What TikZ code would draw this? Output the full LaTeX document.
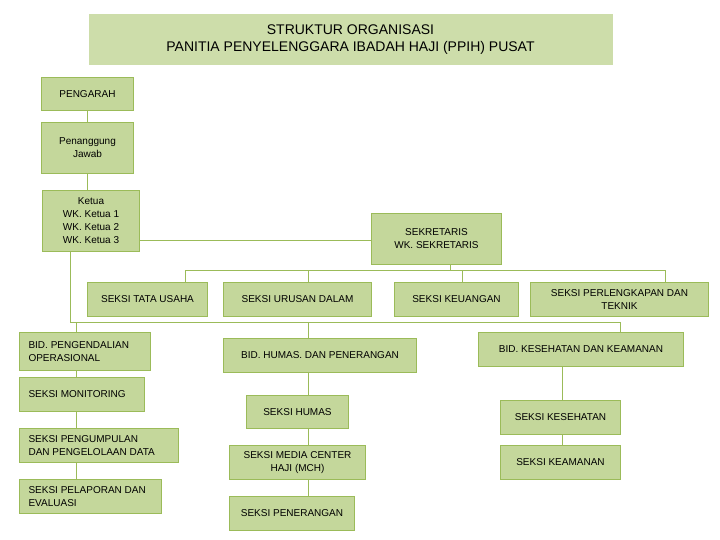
\documentclass[tikz,border=0pt]{standalone}
\usepackage{fontspec}
\setmainfont{Liberation Sans}
\begin{document}
\begin{tikzpicture}[x=1pt,y=-1pt,
  bx/.style={draw=bord,fill=boxfill,line width=1pt,inner sep=0pt,font=\fontsize{10}{13}\selectfont},
  ln/.style={draw=bord,line width=1pt}]
\definecolor{boxfill}{HTML}{C4D79B}
\definecolor{bord}{HTML}{9BBB59}
\useasboundingbox (0,0) rectangle (720,540);
\newcommand{\bx}[6]{\node[bx,minimum width={#4-#2},minimum height={#5-#3},anchor=north west,#6] (#1) at (#2,#3) {};}
\bx{t}{88}{14}{612}{65}{draw=none,fill=boxfill!85}
\node[font=\fontsize{14}{17}\selectfont,align=center] (tt) at (t.center) {STRUKTUR ORGANISASI\\PANITIA PENYELENGGARA IBADAH HAJI (PPIH) PUSAT};
\bx{p}{41}{77}{133}{110}{}
\bx{pj}{41}{122}{133}{173}{}
\bx{k}{42}{190}{139}{251}{}
\bx{s}{371}{213}{501}{264}{}
\bx{tu}{87}{282}{207}{316}{}
\bx{ud}{223}{282}{371}{316}{}
\bx{ku}{394}{282}{518}{316}{}
\bx{pt}{530}{282}{708}{316}{}
\bx{bp}{19}{332}{150}{370}{}
\bx{bh}{223}{338}{416}{372}{}
\bx{bk}{478}{332}{683}{366}{}
\bx{mo}{19}{377}{144}{411}{}
\bx{pd}{19}{428}{178}{462}{}
\bx{pe}{19}{479}{161}{513}{}
\bx{sh}{246}{395}{348}{428}{}
\bx{mc}{229}{445}{365}{479}{}
\bx{pn}{229}{496}{354}{530}{}
\bx{ks}{500}{400}{620}{434}{}
\bx{ka}{500}{445}{620}{479}{}
\tikzset{lb/.style={font=\fontsize{10}{13}\selectfont,align=center}}
\node[lb] (pl) at (p.center) {PENGARAH};
\node[lb] (pjl) at (pj.center) {Penanggung\\Jawab};
\node[lb] (kl) at (k.center) {Ketua\\WK. Ketua 1\\WK. Ketua 2\\WK. Ketua 3};
\node[lb] (sl) at (s.center) {SEKRETARIS\\WK. SEKRETARIS};
\node[lb] (tul) at (tu.center) {SEKSI TATA USAHA};
\node[lb] (udl) at (ud.center) {SEKSI URUSAN DALAM};
\node[lb] (kul) at (ku.center) {SEKSI KEUANGAN};
\node[lb] (ptl) at (pt.center) {SEKSI PERLENGKAPAN DAN\\TEKNIK};
\node[lb,align=left,anchor=west] (bpl) at ([xshift=6pt]bp.west) {BID. PENGENDALIAN\\OPERASIONAL};
\node[lb] (bhl) at (bh.center) {BID. HUMAS. DAN PENERANGAN};
\node[lb] (bkl) at (bk.center) {BID. KESEHATAN DAN KEAMANAN};
\node[lb,anchor=west] (mol) at ([xshift=6pt]mo.west) {SEKSI MONITORING};
\node[lb,align=left,anchor=west] (pdl) at ([xshift=6pt]pd.west) {SEKSI PENGUMPULAN\\DAN PENGELOLAAN DATA};
\node[lb,align=left,anchor=west] (pel) at ([xshift=6pt]pe.west) {SEKSI PELAPORAN DAN\\EVALUASI};
\node[lb] (shl) at (sh.center) {SEKSI HUMAS};
\node[lb] (mcl) at (mc.center) {SEKSI MEDIA CENTER\\HAJI (MCH)};
\node[lb] (pnl) at (pn.center) {SEKSI PENERANGAN};
\node[lb] (ksl) at (ks.center) {SEKSI KESEHATAN};
\node[lb] (kal) at (ka.center) {SEKSI KEAMANAN};
% connectors
\draw[ln] (p.south) -- (pj.north);
\draw[ln] (pj.south) -- (pj.south |- k.north);
\draw[ln] (k.east |- 0,240) -- (s.west |- 0,240);
\coordinate (sb) at (450,270);
\draw[ln] (s.south -| sb) -- (sb);
\draw[ln] (185,270) -- (665,270);
\draw[ln] (185,270) -- (185,282);
\draw[ln] (308,270) -- (308,282);
\draw[ln] (462,270) -- (462,282);
\draw[ln] (665,270) -- (665,282);
\draw[ln] (70,251) -- (70,322) -- (620,322);
\draw[ln] (76,322) -- (bp.north -| 76,0);
\draw[ln] (308,322) -- (bh.north -| 308,0);
\draw[ln] (620,322) -- (bk.north -| 620,0);
\draw[ln] (bp.south -| 76,0) -- (mo.north -| 76,0);
\draw[ln] (mo.south -| 76,0) -- (pd.north -| 76,0);
\draw[ln] (pd.south -| 76,0) -- (pe.north -| 76,0);
\draw[ln] (bh.south -| 308,0) -- (sh.north -| 308,0);
\draw[ln] (sh.south -| 308,0) -- (mc.north -| 308,0);
\draw[ln] (mc.south -| 308,0) -- (pn.north -| 308,0);
\draw[ln] (bk.south -| 562,0) -- (ks.north -| 562,0);
\draw[ln] (ks.south -| 562,0) -- (ka.north -| 562,0);
\end{tikzpicture}
\end{document}
